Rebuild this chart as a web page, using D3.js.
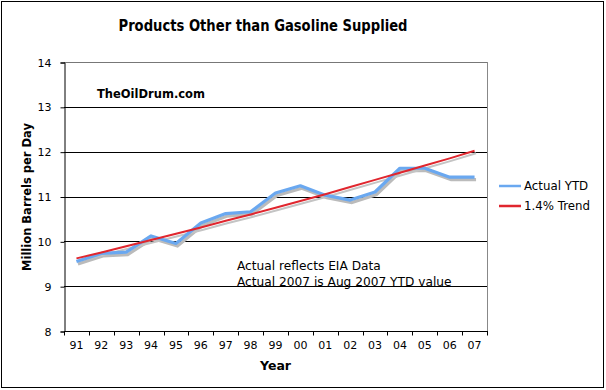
<!DOCTYPE html>
<html>
<head>
<meta charset="utf-8">
<script src="https://cdn.jsdelivr.net/npm/d3@7"></script>
<style>
  body { margin: 0; background: #fff; }
  text { font-family: "DejaVu Sans", Verdana, sans-serif; fill: #000; }
</style>
</head>
<body>
<svg id="chart" width="606" height="390"></svg>
<script>
// data
let years = ["91","92","93","94","95","96","97","98","99","00","01","02","03","04","05","06","07"];
let actual = [9.55, 9.73, 9.76, 10.12, 9.95, 10.41, 10.62, 10.66, 11.08, 11.24, 11.03, 10.92, 11.10, 11.63, 11.63, 11.43, 11.43];
let trend = [9.62, 9.75, 9.89, 10.03, 10.17, 10.31, 10.46, 10.60, 10.75, 10.90, 11.05, 11.21, 11.37, 11.53, 11.69, 11.85, 12.02];
let yTicks = [8, 9, 10, 11, 12, 13, 14];

let blue = "#6aa8f0";
let red = "#e0262e";

let svg = d3.select("#chart");

// outer frame
svg.append("rect")
    .attr("x", 1.5).attr("y", 1.5)
    .attr("width", 602).attr("height", 386)
    .attr("fill", "#fff").attr("stroke", "#000").attr("stroke-width", 1);

let pLeft = 64, pRight = 487, pTop = 62, pBottom = 331;

let x = d3.scaleBand().domain(years).range([pLeft, pRight]);
let y = d3.scaleLinear().domain([8, 14]).range([pBottom, pTop]);

// gridlines
svg.append("g")
    .selectAll("line")
    .data(yTicks.filter(d => d > 8))
    .join("line")
    .attr("x1", pLeft).attr("x2", pRight)
    .attr("y1", d => Math.round(y(d)) + 0.5)
    .attr("y2", d => Math.round(y(d)) + 0.5)
    .attr("stroke", d => d == 14 ? "#777" : "#000")
    .attr("stroke-width", 1);

// right border of plot
svg.append("line")
    .attr("x1", pRight + 0.5).attr("x2", pRight + 0.5)
    .attr("y1", pTop).attr("y2", pBottom)
    .attr("stroke", "#888");

// y axis
let yAxis = d3.axisLeft(y).tickValues(yTicks).tickSize(4).tickPadding(9).tickFormat(d3.format("d"));
let gy = svg.append("g")
    .attr("transform", "translate(" + (pLeft + 0.5) + ",0.5)")
    .call(yAxis);
gy.select(".domain").attr("stroke", "#000");
gy.selectAll("text").style("font-size", "11px").attr("fill", "#000");

// x axis, ticks on band edges
let xAxis = d3.axisBottom(x).tickSize(0).tickPadding(10);
let gx = svg.append("g")
    .attr("transform", "translate(0," + (pBottom + 0.5) + ")")
    .call(xAxis);
gx.select(".domain").attr("stroke", "#000").attr("d", "M" + pLeft + ",0H" + (pRight + 1));
gx.selectAll("text").style("font-size", "11px").attr("fill", "#000");
gx.selectAll(".edge")
    .data(years.concat(["end"]))
    .join("line")
    .attr("class", "edge")
    .attr("x1", (d, i) => Math.round(pLeft + i * x.bandwidth()) + 0.5)
    .attr("x2", (d, i) => Math.round(pLeft + i * x.bandwidth()) + 0.5)
    .attr("y1", 0).attr("y2", 4)
    .attr("stroke", "#000");

// lines with drop shadows
let line = d3.line()
    .x((d, i) => x(years[i]) + x.bandwidth() / 2)
    .y(d => y(d));

let shadow = svg.append("g").attr("transform", "translate(1.5,2.5)");
shadow.append("path").attr("d", line(actual))
    .attr("fill", "none").attr("stroke", "#bbb").attr("stroke-width", 3.2);
shadow.append("path").attr("d", line(trend))
    .attr("fill", "none").attr("stroke", "#c4c4c4").attr("stroke-width", 2);

svg.append("path").attr("d", line(actual))
    .attr("fill", "none").attr("stroke", blue).attr("stroke-width", 3.2)
    .attr("stroke-linejoin", "round");
svg.append("path").attr("d", line(trend))
    .attr("fill", "none").attr("stroke", red).attr("stroke-width", 2);

// title and labels
svg.append("text")
    .attr("x", 263).attr("y", 31)
    .attr("text-anchor", "middle")
    .attr("textLength", 289).attr("lengthAdjust", "spacingAndGlyphs")
    .style("font-size", "15px").style("font-weight", "bold")
    .text("Products Other than Gasoline Supplied");

svg.append("text")
    .attr("x", 97).attr("y", 98)
    .style("font-size", "11.5px").style("font-weight", "bold")
    .text("TheOilDrum.com");

svg.append("text")
    .attr("transform", "translate(31,197) rotate(-90)")
    .attr("text-anchor", "middle")
    .style("font-size", "11.5px").style("font-weight", "bold")
    .text("Million Barrels per Day");

svg.append("text")
    .attr("x", (pLeft + pRight) / 2).attr("y", 370)
    .attr("text-anchor", "middle")
    .style("font-size", "12.5px").style("font-weight", "bold")
    .text("Year");

svg.append("text")
    .attr("x", 237).attr("y", 270)
    .style("font-size", "12.2px")
    .text("Actual reflects EIA Data");
svg.append("text")
    .attr("x", 237).attr("y", 286)
    .style("font-size", "12.2px")
    .text("Actual 2007 is Aug 2007 YTD value");

// legend
let legend = [["Actual YTD", blue], ["1.4% Trend", red]];
let lg = svg.append("g");
legend.forEach((d, i) => {
    let ly = 186 + i * 20;
    lg.append("line")
        .attr("x1", 499).attr("x2", 521)
        .attr("y1", ly).attr("y2", ly)
        .attr("stroke", d[1]).attr("stroke-width", 2.5);
    lg.append("text")
        .attr("x", 524).attr("y", ly + 4)
        .style("font-size", "11.8px")
        .text(d[0]);
});
</script>
</body>
</html>
